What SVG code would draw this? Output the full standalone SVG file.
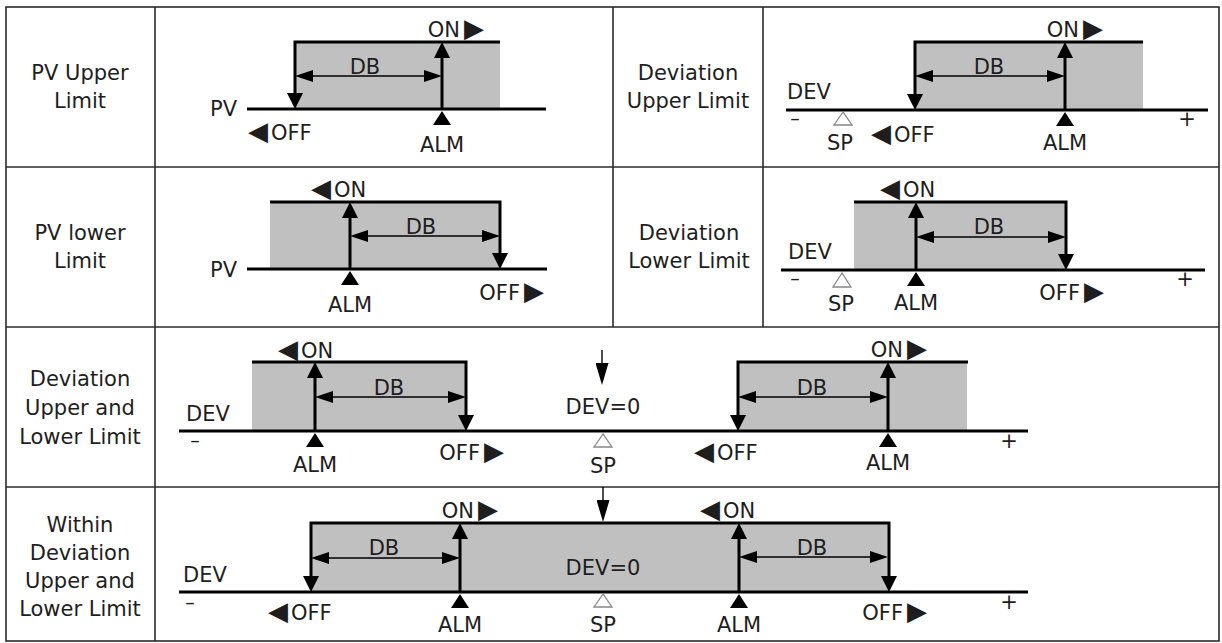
<svg xmlns="http://www.w3.org/2000/svg" width="1222" height="643" viewBox="0 0 1222 643">
<defs>
<marker id="mh" viewBox="0 0 16 16" refX="8" refY="8" markerWidth="16" markerHeight="16" markerUnits="userSpaceOnUse" orient="auto-start-reverse"><path d="M0,0 L16,8 L0,16 z" fill="#000"/></marker>
<marker id="ml" viewBox="0 0 18 12" refX="10" refY="6" markerWidth="18" markerHeight="12" markerUnits="userSpaceOnUse" orient="auto-start-reverse"><path d="M0,0 L18,6 L0,12 z" fill="#000"/></marker>
<marker id="mm" viewBox="0 0 22 13" refX="14" refY="6.5" markerWidth="22" markerHeight="13" markerUnits="userSpaceOnUse" orient="auto"><path d="M0,0 L22,6.5 L0,13 z" fill="#000"/></marker>
<style>
text{font-family:"DejaVu Sans","Liberation Sans",sans-serif;fill:#1e1e1e}
.lb{font-size:21px;text-anchor:middle}
.t{font-size:21px}
.tr{font-size:26px}
.m{text-anchor:middle}
.e{text-anchor:end}
.pm{font-size:21px;text-anchor:middle}
.mi{font-size:19px;text-anchor:middle}
.grid{fill:none;stroke:#2a2a2a;stroke-width:1.6}
.gray{fill:#c0c0c0}
.ax{stroke:#000;stroke-width:3.2;fill:none}
.hv{stroke:#000;stroke-width:3;fill:none;marker-end:url(#mh)}
.db{stroke:#000;stroke-width:1.3;fill:none;marker-start:url(#ml);marker-end:url(#ml)}
.dn{stroke:#000;stroke-width:1.4;fill:none;marker-end:url(#mm)}
.alm{fill:#000}
.sp{fill:#fff;stroke:#888;stroke-width:1.3}
</style>
</defs>

<g id="table" class="grid">
<rect x="6" y="7" width="1213" height="634"/>
<line x1="6" y1="167" x2="1219" y2="167"/>
<line x1="6" y1="327" x2="1219" y2="327"/>
<line x1="6" y1="487" x2="1219" y2="487"/>
<line x1="155" y1="7" x2="155" y2="641"/>
<line x1="613" y1="7" x2="613" y2="327"/>
<line x1="763" y1="7" x2="763" y2="327"/>
</g>

<g id="labels">
<g id="label-pv-upper"><text class="lb" x="80" y="80">PV Upper</text><text class="lb" x="80" y="108">Limit</text></g>
<g id="label-dev-upper"><text class="lb" x="688" y="80">Deviation</text><text class="lb" x="688" y="108">Upper Limit</text></g>
<g id="label-pv-lower"><text class="lb" x="80" y="240">PV lower</text><text class="lb" x="80" y="268">Limit</text></g>
<g id="label-dev-lower"><text class="lb" x="689" y="240">Deviation</text><text class="lb" x="689" y="268">Lower Limit</text></g>
<g id="label-dev-both"><text class="lb" x="80" y="386">Deviation</text><text class="lb" x="80" y="415">Upper and</text><text class="lb" x="80" y="444">Lower Limit</text></g>
<g id="label-within"><text class="lb" x="80" y="532">Within</text><text class="lb" x="80" y="560">Deviation</text><text class="lb" x="80" y="588">Upper and</text><text class="lb" x="80" y="616">Lower Limit</text></g>
</g>

<g id="panel-pv-upper">
<rect class="gray" x="295" y="42" width="205" height="67"/>
<line class="ax" x1="247" y1="109" x2="546" y2="109"/>
<text class="t e" x="237" y="116">PV</text>
<text class="t m" x="365" y="74">DB</text>
<text class="t e" x="484" y="37">ON<tspan class="tr" dx="4">▶</tspan></text>
<polygon class="alm" points="442,111 433,125 451,125"/>
<text class="t m" x="442" y="152">ALM</text>
<text class="t" x="248" y="140"><tspan class="tr">◀</tspan><tspan dx="3">OFF</tspan></text>
</g>

<g id="panel-dev-upper">
<rect class="gray" x="915" y="42" width="228" height="68"/>
<line class="ax" x1="786" y1="110" x2="1208" y2="110"/>
<text class="t" x="787" y="99">DEV</text>
<text class="mi" x="795" y="125">–</text>
<text class="pm" x="1187" y="126">+</text>
<polygon class="sp" points="843,112 834,125 852,125"/>
<text class="t m" x="840" y="150">SP</text>
<text class="t" x="871" y="142"><tspan class="tr">◀</tspan><tspan dx="3">OFF</tspan></text>
<text class="t m" x="989" y="74">DB</text>
<text class="t e" x="1103" y="37">ON<tspan class="tr" dx="4">▶</tspan></text>
<polygon class="alm" points="1065,112 1056,126 1074,126"/>
<text class="t m" x="1065" y="150">ALM</text>
</g>

<g id="panel-pv-lower">
<rect class="gray" x="270" y="202" width="230" height="67"/>
<line class="ax" x1="247" y1="269" x2="547" y2="269"/>
<text class="t e" x="237" y="277">PV</text>
<text class="t m" x="421" y="234">DB</text>
<text class="t" x="311" y="197"><tspan class="tr">◀</tspan><tspan dx="3">ON</tspan></text>
<polygon class="alm" points="350,271 341,285 359,285"/>
<text class="t m" x="350" y="312">ALM</text>
<text class="t e" x="544" y="300">OFF<tspan class="tr" dx="4">▶</tspan></text>
</g>

<g id="panel-dev-lower">
<rect class="gray" x="854" y="202" width="212" height="68"/>
<line class="ax" x1="781" y1="270" x2="1205" y2="270"/>
<text class="t" x="788" y="259">DEV</text>
<text class="mi" x="795" y="285">–</text>
<text class="pm" x="1185" y="286">+</text>
<polygon class="sp" points="842,273 833,287 851,287"/>
<text class="t m" x="841" y="311">SP</text>
<text class="t m" x="989" y="234">DB</text>
<text class="t" x="880" y="197"><tspan class="tr">◀</tspan><tspan dx="3">ON</tspan></text>
<polygon class="alm" points="916,272 907,286 925,286"/>
<text class="t m" x="916" y="310">ALM</text>
<text class="t e" x="1104" y="300">OFF<tspan class="tr" dx="4">▶</tspan></text>
</g>

<g id="panel-dev-both">
<rect class="gray" x="252" y="362" width="214" height="69"/>
<rect class="gray" x="738" y="362" width="229" height="69"/>
<line class="ax" x1="179" y1="431" x2="1028" y2="431"/>
<text class="t" x="186" y="421">DEV</text>
<text class="mi" x="195" y="447">–</text>
<text class="pm" x="1009" y="448">+</text>
<text class="t m" x="389" y="395">DB</text>
<text class="t" x="278" y="358"><tspan class="tr">◀</tspan><tspan dx="3">ON</tspan></text>
<polygon class="alm" points="315,433 306,447 324,447"/>
<text class="t m" x="315" y="472">ALM</text>
<text class="t e" x="504" y="460">OFF<tspan class="tr" dx="4">▶</tspan></text>
<text class="t m" x="603" y="414">DEV=0</text>
<polygon class="sp" points="603,434 594,447 612,447"/>
<text class="t m" x="603" y="473">SP</text>
<text class="t m" x="812" y="395">DB</text>
<text class="t e" x="927" y="357">ON<tspan class="tr" dx="4">▶</tspan></text>
<polygon class="alm" points="888,433 879,447 897,447"/>
<text class="t m" x="888" y="470">ALM</text>
<text class="t" x="694" y="460"><tspan class="tr">◀</tspan><tspan dx="3">OFF</tspan></text>
</g>

<g id="panel-within">
<rect class="gray" x="311" y="523" width="578" height="69"/>
<line class="ax" x1="179" y1="592" x2="1028" y2="592"/>
<text class="t" x="183" y="582">DEV</text>
<text class="mi" x="190" y="609">–</text>
<text class="pm" x="1009" y="609">+</text>
<text class="t m" x="384" y="555">DB</text>
<text class="t e" x="498" y="518">ON<tspan class="tr" dx="4">▶</tspan></text>
<polygon class="alm" points="460,594 451,608 469,608"/>
<text class="t m" x="460" y="632">ALM</text>
<text class="t" x="268" y="620"><tspan class="tr">◀</tspan><tspan dx="3">OFF</tspan></text>
<text class="t m" x="603" y="575">DEV=0</text>
<polygon class="sp" points="603,594 594,607 612,607"/>
<text class="t m" x="603" y="632">SP</text>
<text class="t m" x="812" y="555">DB</text>
<text class="t" x="700" y="518"><tspan class="tr">◀</tspan><tspan dx="3">ON</tspan></text>
<polygon class="alm" points="739,594 730,608 748,608"/>
<text class="t m" x="739" y="632">ALM</text>
<text class="t e" x="927" y="620">OFF<tspan class="tr" dx="4">▶</tspan></text>
</g>

<g id="connectors">
<path class="hv" d="M500,42 H295 V101"/>
<path class="hv" d="M442,109 V50"/>
<path class="db" d="M303,76 H434"/>

<path class="hv" d="M1143,42 H915 V102"/>
<path class="hv" d="M1065,110 V50"/>
<path class="db" d="M923,76 H1057"/>

<path class="hv" d="M270,202 H500 V261"/>
<path class="hv" d="M350,269 V210"/>
<path class="db" d="M358,236 H492"/>

<path class="hv" d="M854,202 H1066 V262"/>
<path class="hv" d="M916,270 V210"/>
<path class="db" d="M924,237 H1058"/>

<path class="hv" d="M252,362 H466 V423"/>
<path class="hv" d="M315,431 V370"/>
<path class="db" d="M323,397 H458"/>
<path class="dn" d="M602,350 V377"/>
<path class="hv" d="M968,362 H738 V423"/>
<path class="hv" d="M888,431 V370"/>
<path class="db" d="M746,397 H880"/>

<path class="hv" d="M602,523 H311 V584"/>
<path class="hv" d="M602,523 H889 V584"/>
<path class="hv" d="M460,592 V531"/>
<path class="db" d="M319,558 H452"/>
<path class="dn" d="M603,487 V514"/>
<path class="hv" d="M739,592 V531"/>
<path class="db" d="M747,557 H880"/>
</g>
</svg>
